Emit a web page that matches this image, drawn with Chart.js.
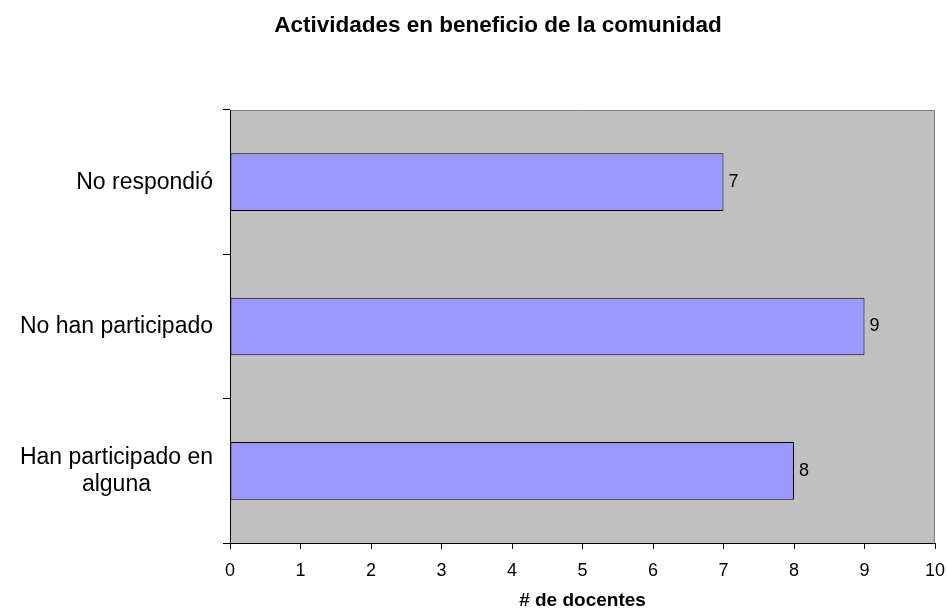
<!DOCTYPE html>
<html>
<head>
<meta charset="utf-8">
<script src="https://cdn.jsdelivr.net/npm/chart.js@4"></script>
<style>
  html, body { margin: 0; padding: 0; background: #fff; }
  #wrap { width: 947px; height: 616px; }
</style>
</head>
<body>
<div id="wrap"><canvas id="grafica" width="947" height="616"></canvas></div>
<script>
// Categorías (de arriba hacia abajo) y valores
const categorias = [["No respondió"], ["No han participado"], ["Han participado en", "alguna"]];
const docentes = [7, 9, 8];
const ticksX = [0, 1, 2, 3, 4, 5, 6, 7, 8, 9, 10];

const fuente = 'Arial, "Liberation Sans", sans-serif';

// Fondo gris del área de trazado y bordes
const fondoArea = {
  id: 'fondoArea',
  beforeDraw(chart) {
    const { ctx, chartArea: a } = chart;
    ctx.save();
    ctx.fillStyle = '#C0C0C0';
    ctx.fillRect(a.left, a.top, a.right - a.left, a.bottom - a.top);
    ctx.strokeStyle = '#808080';
    ctx.lineWidth = 1;
    ctx.beginPath();
    ctx.moveTo(a.left, a.top + 0.5);
    ctx.lineTo(a.right - 0.5, a.top + 0.5);
    ctx.lineTo(a.right - 0.5, a.bottom);
    ctx.stroke();
    ctx.restore();
  }
};

// Etiquetas de categoría (bloque alineado a la derecha, líneas centradas)
const etiquetasY = {
  id: 'etiquetasY',
  afterDraw(chart) {
    const { ctx } = chart;
    const y = chart.scales.y;
    ctx.save();
    ctx.font = '23px ' + fuente;
    ctx.fillStyle = '#000';
    ctx.textAlign = 'center';
    ctx.textBaseline = 'middle';
    const derecha = chart.chartArea.left - 17;
    const alto = 27;
    categorias.forEach((lineas, i) => {
      const ancho = Math.max(...lineas.map(l => ctx.measureText(l).width));
      const cx = derecha - ancho / 2;
      const cy = y.getPixelForValue(i);
      lineas.forEach((l, j) => {
        ctx.fillText(l, cx, cy + (j - (lineas.length - 1) / 2) * alto);
      });
    });
    ctx.restore();
  }
};

// Valores al final de cada barra
const valores = {
  id: 'valores',
  afterDatasetsDraw(chart) {
    const { ctx } = chart;
    const meta = chart.getDatasetMeta(0);
    ctx.save();
    ctx.font = '18px ' + fuente;
    ctx.fillStyle = '#000';
    ctx.textAlign = 'left';
    ctx.textBaseline = 'middle';
    meta.data.forEach((bar, i) => {
      ctx.fillText(String(docentes[i]), bar.x + 5, bar.y);
    });
    ctx.restore();
  }
};

new Chart(document.querySelector('#grafica'), {
  type: 'bar',
  data: {
    labels: categorias.map(c => c.join(' ')),
    datasets: [{
      data: docentes,
      backgroundColor: '#9999FF',
      borderColor: '#000000',
      borderWidth: 1,
      borderSkipped: false,
      barPercentage: 1,
      categoryPercentage: 0.4
    }]
  },
  options: {
    indexAxis: 'y',
    responsive: false,
    animation: false,
    layout: { padding: { left: 61, right: 12, top: 0, bottom: 2 } },
    plugins: {
      legend: { display: false },
      tooltip: { enabled: false },
      title: {
        display: true,
        text: 'Actividades en beneficio de la comunidad',
        color: '#000',
        font: { family: fuente, size: 22.5, weight: 'bold' },
        padding: { top: 12, bottom: 71 }
      }
    },
    scales: {
      x: {
        min: 0,
        max: 10,
        afterBuildTicks: s => { s.ticks = ticksX.map(v => ({ value: v })); },
        afterFit: s => { s.height = 71; s.paddingRight = 0; },
        grid: { drawOnChartArea: false, tickLength: 6, color: '#000' },
        border: { color: '#000', width: 1 },
        ticks: {
          color: '#000',
          padding: 11,
          font: { family: fuente, size: 18 }
        },
        title: {
          display: true,
          text: '# de docentes',
          color: '#000',
          font: { family: fuente, size: 19, weight: 'bold' },
          padding: { top: 0, bottom: 2 }
        }
      },
      y: {
        afterFit: s => { s.width = 169; },
        grid: { offset: true, drawOnChartArea: false, tickLength: 7, color: '#000' },
        border: { color: '#000', width: 1 },
        ticks: { display: false }
      }
    }
  },
  plugins: [fondoArea, etiquetasY, valores]
});
</script>
</body>
</html>
